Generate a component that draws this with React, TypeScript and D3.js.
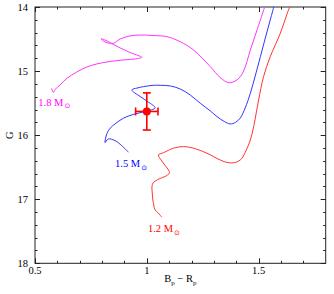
import React, { useEffect, useRef } from "react";
import * as d3 from "d3";

// evolutionary tracks: [Bp-Rp, G]
const track18: [number, number][] = [
  [0.574, 15.271], [0.582, 15.334], [0.59, 15.287], [0.612, 15.217], [0.642, 15.115],
  [0.687, 15.014], [0.732, 14.936], [0.776, 14.889], [0.836, 14.85], [0.903, 14.824],
  [0.948, 14.811], [0.978, 14.785], [0.961, 14.757], [0.925, 14.71], [0.872, 14.624],
  [0.827, 14.538], [0.796, 14.496], [0.805, 14.53], [0.827, 14.562], [0.849, 14.569],
  [0.881, 14.499], [0.925, 14.452], [0.97, 14.437], [1.028, 14.445], [1.09, 14.463],
  [1.149, 14.541], [1.209, 14.671], [1.284, 14.931], [1.328, 15.1], [1.366, 15.181],
  [1.403, 15.139], [1.431, 15.014], [1.463, 14.671], [1.493, 14.359], [1.53, 13.969],
];

const track15: [number, number][] = [
  [0.918, 16.267], [0.888, 16.164], [0.858, 16.086], [0.828, 16.059], [0.813, 16.117],
  [0.815, 16.059], [0.822, 15.97], [0.836, 15.892], [0.858, 15.825], [0.895, 15.736],
  [0.939, 15.677], [0.993, 15.63], [1.037, 15.573], [1.006, 15.482], [0.97, 15.396],
  [0.933, 15.295], [0.957, 15.264], [0.985, 15.243], [1.028, 15.222], [1.06, 15.222],
  [1.105, 15.232], [1.149, 15.279], [1.194, 15.373], [1.239, 15.502], [1.284, 15.622],
  [1.314, 15.711], [1.346, 15.786], [1.373, 15.825], [1.396, 15.802], [1.418, 15.732],
  [1.44, 15.576], [1.463, 15.346], [1.486, 15.061], [1.508, 14.775], [1.53, 14.484],
  [1.552, 14.203], [1.57, 13.969],
];

const track12: [number, number][] = [
  [1.067, 17.281], [1.051, 17.214], [1.037, 17.167], [1.031, 17.089], [1.027, 17.011],
  [1.024, 16.886], [1.023, 16.803], [1.028, 16.746], [1.037, 16.718], [1.06, 16.675],
  [1.082, 16.644], [1.101, 16.594], [1.097, 16.543], [1.082, 16.473], [1.064, 16.387],
  [1.052, 16.309], [1.075, 16.273], [1.119, 16.204], [1.164, 16.179], [1.209, 16.204],
  [1.269, 16.282], [1.328, 16.387], [1.364, 16.429], [1.396, 16.426], [1.423, 16.371],
  [1.445, 16.231], [1.463, 16.075], [1.478, 15.867], [1.49, 15.638], [1.5, 15.451],
  [1.522, 15.087], [1.552, 14.775], [1.597, 14.41], [1.624, 14.14], [1.637, 14.016],
  [1.646, 13.953],
];

const massLabels = ["1.8", "1.5", "1.2"];

// observed star
const starColor = [1.0];
const starMag = [15.63];
const starColorErr = [0.05];
const starMagErr = [0.29];

const xMajorTicks = [0.5, 1, 1.5];
const yMajorTicks = [14, 15, 16, 17, 18];

const App = () => {
  const svgRef = useRef<SVGSVGElement>(null);

  useEffect(() => {
    const svg = d3.select(svgRef.current);
    svg.selectAll("*").remove();

    const W = 334;
    const H = 294;
    const margin = { top: 7, right: 8.3, bottom: 30.7, left: 35 };

    const x = d3.scaleLinear().domain([0.5, 1.8]).range([margin.left, W - margin.right]);
    const y = d3.scaleLinear().domain([14, 18]).range([margin.top, H - margin.bottom]);

    const font = "'Liberation Serif', 'DejaVu Serif', serif";

    svg
      .append("defs")
      .append("clipPath")
      .attr("id", "plotclip")
      .append("rect")
      .attr("x", x(0.5))
      .attr("y", y(14))
      .attr("width", x(1.8) - x(0.5))
      .attr("height", y(18) - y(14));

    // ticks on all four sides, pointing inwards
    const ticks = svg.append("g").attr("stroke", "#222").attr("stroke-width", 1);
    const xMinor = d3.range(5, 18).map((d) => d / 10);
    xMinor.forEach((v) => {
      const major = xMajorTicks.some((m) => Math.abs(m - v) < 1e-6);
      const len = major ? 5 : 2.5;
      const px = Math.round(x(v)) + 0.5;
      ticks.append("line").attr("x1", px).attr("x2", px).attr("y1", y(18)).attr("y2", y(18) - len);
      ticks.append("line").attr("x1", px).attr("x2", px).attr("y1", y(14)).attr("y2", y(14) + len);
    });
    const yMinor = d3.range(70, 91).map((d) => d / 5);
    yMinor.forEach((v) => {
      const major = yMajorTicks.some((m) => Math.abs(m - v) < 1e-6);
      const len = major ? 5 : 2.5;
      const py = Math.round(y(v)) + 0.5;
      ticks.append("line").attr("x1", x(0.5)).attr("x2", x(0.5) + len).attr("y1", py).attr("y2", py);
      ticks.append("line").attr("x1", x(1.8)).attr("x2", x(1.8) - len).attr("y1", py).attr("y2", py);
    });

    // frame
    svg
      .append("rect")
      .attr("x", x(0.5))
      .attr("y", y(14))
      .attr("width", x(1.8) - x(0.5))
      .attr("height", y(18) - y(14))
      .attr("fill", "none")
      .attr("stroke", "#222")
      .attr("stroke-width", 1);

    // tick labels
    svg
      .append("g")
      .selectAll("text")
      .data(xMajorTicks)
      .join("text")
      .attr("x", (d) => x(d))
      .attr("y", y(18) + 11)
      .attr("text-anchor", "middle")
      .style("font-family", font)
      .style("font-size", "10.5px")
      .text((d) => String(d));

    svg
      .append("g")
      .selectAll("text")
      .data(yMajorTicks)
      .join("text")
      .attr("x", x(0.5) - 7)
      .attr("y", (d) => y(d) + 3.5)
      .attr("text-anchor", "end")
      .style("font-family", font)
      .style("font-size", "10.5px")
      .text((d) => String(d));

    // axis titles
    const xt = svg
      .append("text")
      .attr("x", (x(0.5) + x(1.8)) / 2)
      .attr("y", 282)
      .attr("text-anchor", "middle")
      .style("font-family", font)
      .style("font-size", "10.5px");
    xt.append("tspan").text("B");
    xt.append("tspan").attr("dy", 2.5).style("font-size", "7px").text("p");
    xt.append("tspan").attr("dy", -2.5).text(" \u2212 R");
    xt.append("tspan").attr("dy", 2.5).style("font-size", "7px").text("p");

    svg
      .append("text")
      .attr("transform", `translate(13,${(y(14) + y(18)) / 2}) rotate(-90)`)
      .attr("text-anchor", "middle")
      .style("font-family", font)
      .style("font-size", "10.5px")
      .text("G");

    // tracks
    const line = d3
      .line<[number, number]>()
      .x((d) => x(d[0]))
      .y((d) => y(d[1]))
      .curve(d3.curveCatmullRom.alpha(0.5));

    const tracks = [
      { pts: track18, color: "#ff33ff", text: "#ff00ff", lx: 0.515, ly: 15.545 },
      { pts: track15, color: "#3333ff", text: "#0000ff", lx: 0.858, ly: 16.5 },
      { pts: track12, color: "#ff3333", text: "#ff0000", lx: 1.005, ly: 17.515 },
    ];

    const g = svg.append("g").attr("clip-path", "url(#plotclip)");
    tracks.forEach((t) => {
      g.append("path")
        .attr("d", line(t.pts))
        .attr("fill", "none")
        .attr("stroke", t.color)
        .attr("stroke-width", 1);
    });

    tracks.forEach((t, i) => {
      const lbl = svg
        .append("text")
        .attr("x", x(t.lx))
        .attr("y", y(t.ly))
        .attr("fill", t.text)
        .style("font-family", font)
        .style("font-size", "10.5px");
      lbl.append("tspan").text(massLabels[i] + " M");
      lbl
        .append("tspan")
        .attr("dy", 2.5)
        .attr("dx", 1)
        .style("font-family", "'DejaVu Sans', sans-serif")
        .style("font-size", "7px")
        .text("\u2299");
    });

    // star with error bars
    const star = svg.append("g").attr("stroke", "#ff0000").attr("stroke-width", 1.6);
    starColor.forEach((c, i) => {
      const cx = x(c);
      const cy = y(starMag[i]);
      const x0 = x(c - starColorErr[i]);
      const x1 = x(c + starColorErr[i]);
      const y0 = y(starMag[i] - starMagErr[i]);
      const y1 = y(starMag[i] + starMagErr[i]);
      star.append("line").attr("x1", x0).attr("x2", x1).attr("y1", cy).attr("y2", cy);
      star.append("line").attr("x1", cx).attr("x2", cx).attr("y1", y0).attr("y2", y1);
      star.append("line").attr("x1", x0).attr("x2", x0).attr("y1", cy - 4).attr("y2", cy + 4);
      star.append("line").attr("x1", x1).attr("x2", x1).attr("y1", cy - 4).attr("y2", cy + 4);
      star.append("line").attr("x1", cx - 4).attr("x2", cx + 4).attr("y1", y0).attr("y2", y0);
      star.append("line").attr("x1", cx - 4).attr("x2", cx + 4).attr("y1", y1).attr("y2", y1);
      star
        .append("circle")
        .attr("cx", cx)
        .attr("cy", cy)
        .attr("r", 4)
        .attr("fill", "#ff0000")
        .attr("stroke", "none");
    });
  }, []);

  return (
    <div style={{ position: "absolute", left: 0, top: 0, width: 334, height: 294, background: "#fff" }}>
      <svg ref={svgRef} width={334} height={294}></svg>
    </div>
  );
};

export default App;
